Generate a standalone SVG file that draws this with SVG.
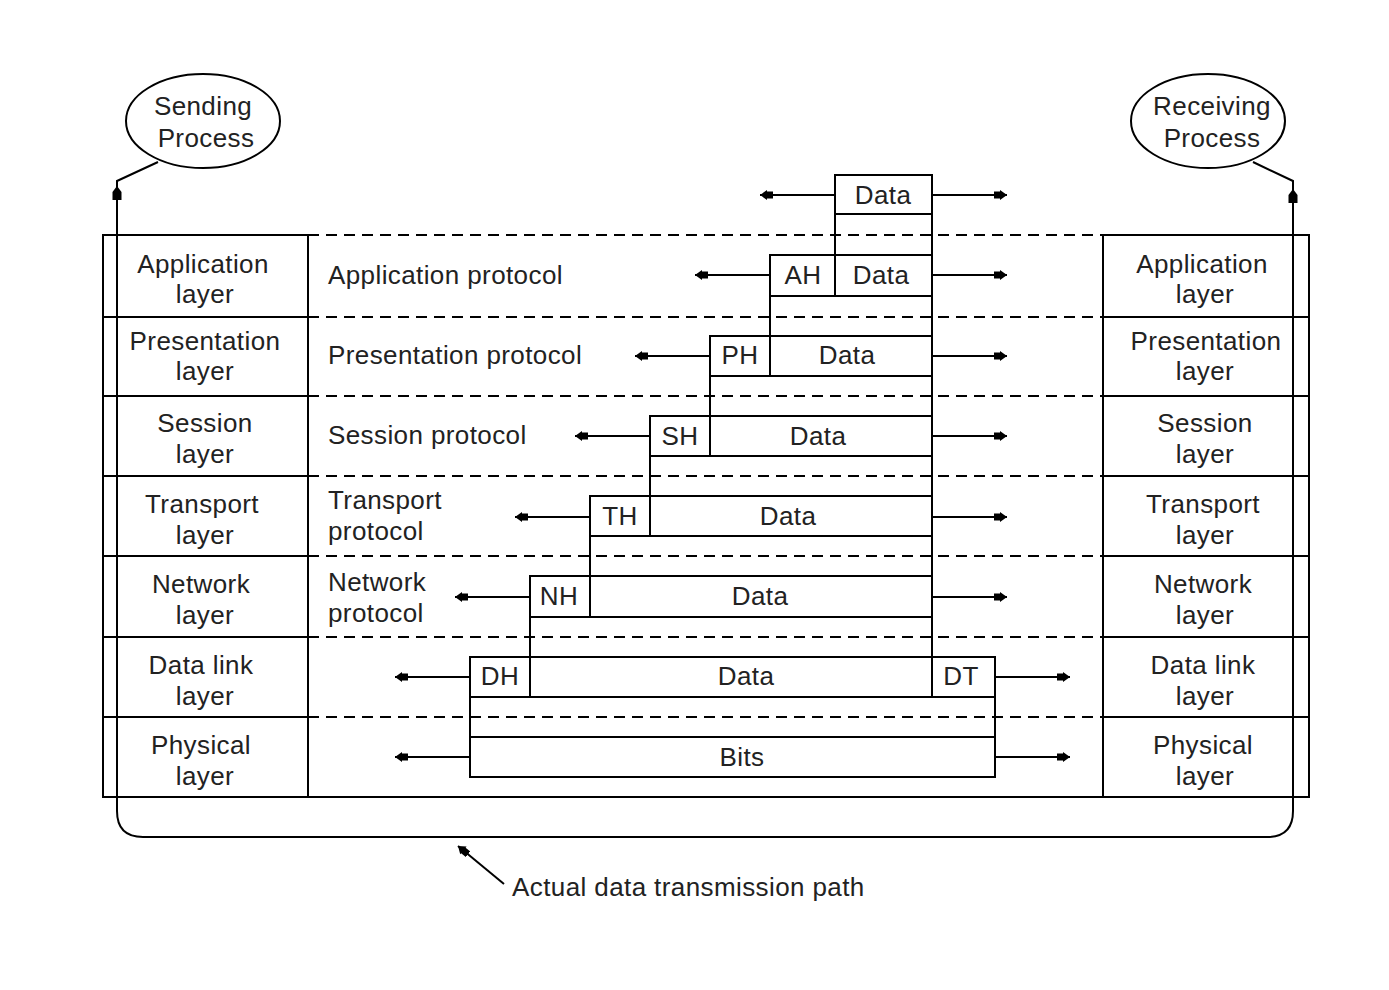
<svg xmlns="http://www.w3.org/2000/svg" width="1389" height="990" viewBox="0 0 1389 990">
<style>
  .ln{fill:none;stroke:#000;stroke-width:2}
  .box{fill:#fff;stroke:#000;stroke-width:2}
  .dash{fill:none;stroke:#000;stroke-width:2;stroke-dasharray:11 7}
  .arr{fill:none;stroke:#000;stroke-width:2;marker-end:url(#ah)}
  text{font-family:"Liberation Sans",Arial,Helvetica,sans-serif;font-size:26px;letter-spacing:0.4px;fill:#222}
  .c{text-anchor:middle}
</style>
<defs>
  <marker id="ah" markerUnits="userSpaceOnUse" viewBox="0 -6 14 12" refX="13" refY="0" markerWidth="14" markerHeight="12" orient="auto">
    <path d="M0,-3.5 H6 V-5 L13,0 L6,5 V3.5 H0 Z" fill="#000"/>
  </marker>
</defs>
<rect width="1389" height="990" fill="#fff"/>

<!-- row separators (dashed) -->
<g id="separators">
  <line class="dash" x1="308" y1="235" x2="1103" y2="235"/>
  <line class="dash" x1="308" y1="317" x2="1103" y2="317"/>
  <line class="dash" x1="308" y1="396" x2="1103" y2="396"/>
  <line class="dash" x1="308" y1="476" x2="1103" y2="476"/>
  <line class="dash" x1="308" y1="556" x2="1103" y2="556"/>
  <line class="dash" x1="308" y1="637" x2="1103" y2="637"/>
  <line class="dash" x1="308" y1="717" x2="1103" y2="717"/>
  <line class="ln" x1="103" y1="797" x2="1309" y2="797"/>
</g>

<!-- left layer column -->
<g id="sender-stack">
  <rect class="ln" x="103" y="235" width="205" height="562"/>
  <line class="ln" x1="103" y1="317" x2="308" y2="317"/>
  <line class="ln" x1="103" y1="396" x2="308" y2="396"/>
  <line class="ln" x1="103" y1="476" x2="308" y2="476"/>
  <line class="ln" x1="103" y1="556" x2="308" y2="556"/>
  <line class="ln" x1="103" y1="637" x2="308" y2="637"/>
  <line class="ln" x1="103" y1="717" x2="308" y2="717"/>
  <text class="c" x="203" y="273">Application</text><text class="c" x="205" y="303">layer</text>
  <text class="c" x="205" y="350">Presentation</text><text class="c" x="205" y="380">layer</text>
  <text class="c" x="205" y="432">Session</text><text class="c" x="205" y="463">layer</text>
  <text class="c" x="202" y="513">Transport</text><text class="c" x="205" y="544">layer</text>
  <text class="c" x="201" y="593">Network</text><text class="c" x="205" y="624">layer</text>
  <text class="c" x="201" y="674">Data link</text><text class="c" x="205" y="705">layer</text>
  <text class="c" x="201" y="754">Physical</text><text class="c" x="205" y="785">layer</text>
</g>

<!-- right layer column -->
<g id="receiver-stack">
  <rect class="ln" x="1103" y="235" width="206" height="562"/>
  <line class="ln" x1="1103" y1="317" x2="1309" y2="317"/>
  <line class="ln" x1="1103" y1="396" x2="1309" y2="396"/>
  <line class="ln" x1="1103" y1="476" x2="1309" y2="476"/>
  <line class="ln" x1="1103" y1="556" x2="1309" y2="556"/>
  <line class="ln" x1="1103" y1="637" x2="1309" y2="637"/>
  <line class="ln" x1="1103" y1="717" x2="1309" y2="717"/>
  <text class="c" x="1202" y="273">Application</text><text class="c" x="1205" y="303">layer</text>
  <text class="c" x="1206" y="350">Presentation</text><text class="c" x="1205" y="380">layer</text>
  <text class="c" x="1205" y="432">Session</text><text class="c" x="1205" y="463">layer</text>
  <text class="c" x="1203" y="513">Transport</text><text class="c" x="1205" y="544">layer</text>
  <text class="c" x="1203" y="593">Network</text><text class="c" x="1205" y="624">layer</text>
  <text class="c" x="1203" y="674">Data link</text><text class="c" x="1205" y="705">layer</text>
  <text class="c" x="1203" y="754">Physical</text><text class="c" x="1205" y="785">layer</text>
</g>

<!-- protocol labels -->
<g id="protocols">
  <text x="328" y="284">Application protocol</text>
  <text x="328" y="364">Presentation protocol</text>
  <text x="328" y="444">Session protocol</text>
  <text x="328" y="509">Transport</text><text x="328" y="540">protocol</text>
  <text x="328" y="591">Network</text><text x="328" y="622">protocol</text>
</g>

<!-- processes -->
<g id="sending-process">
  <ellipse class="ln" cx="203" cy="121" rx="77" ry="47"/>
  <text class="c" x="203" y="115">Sending</text>
  <text class="c" x="206" y="147">Process</text>
</g>
<g id="receiving-process">
  <ellipse class="ln" cx="1208" cy="121" rx="77" ry="47"/>
  <text class="c" x="1212" y="115">Receiving</text>
  <text class="c" x="1212" y="147">Process</text>
</g>

<!-- connectors -->
<g id="connectors">
  <!-- vertical stair edges joining packet boxes -->
  <line class="ln" x1="932" y1="175" x2="932" y2="697"/>
  <line class="ln" x1="835" y1="214" x2="835" y2="255"/>
  <line class="ln" x1="770" y1="296" x2="770" y2="336"/>
  <line class="ln" x1="710" y1="376" x2="710" y2="416"/>
  <line class="ln" x1="650" y1="456" x2="650" y2="496"/>
  <line class="ln" x1="590" y1="536" x2="590" y2="576"/>
  <line class="ln" x1="530" y1="617" x2="530" y2="657"/>
  <line class="ln" x1="470" y1="697" x2="470" y2="737"/>
  <line class="ln" x1="995" y1="697" x2="995" y2="737"/>

  <!-- actual data transmission path -->
  <path class="ln" d="M158,162 L117,181 L117,811 Q117,837 143,837 L1267,837 Q1293,837 1293,811 L1293,181 L1253,162"/>
  <path d="M117,186 L121.5,192 V200 H112.5 V192 Z" fill="#000"/>
  <path d="M1293,189 L1297.5,195 V203 H1288.5 V195 Z" fill="#000"/>

  <!-- peer protocol arrows -->
  <line class="arr" x1="835" y1="195" x2="760" y2="195"/>
  <line class="arr" x1="932" y1="195" x2="1007" y2="195"/>
  <line class="arr" x1="770" y1="275" x2="695" y2="275"/>
  <line class="arr" x1="932" y1="275" x2="1007" y2="275"/>
  <line class="arr" x1="710" y1="356" x2="635" y2="356"/>
  <line class="arr" x1="932" y1="356" x2="1007" y2="356"/>
  <line class="arr" x1="650" y1="436" x2="575" y2="436"/>
  <line class="arr" x1="932" y1="436" x2="1007" y2="436"/>
  <line class="arr" x1="590" y1="517" x2="515" y2="517"/>
  <line class="arr" x1="932" y1="517" x2="1007" y2="517"/>
  <line class="arr" x1="530" y1="597" x2="455" y2="597"/>
  <line class="arr" x1="932" y1="597" x2="1007" y2="597"/>
  <line class="arr" x1="470" y1="677" x2="395" y2="677"/>
  <line class="arr" x1="995" y1="677" x2="1070" y2="677"/>
  <line class="arr" x1="470" y1="757" x2="395" y2="757"/>
  <line class="arr" x1="995" y1="757" x2="1070" y2="757"/>

  <!-- label pointer -->
  <line class="arr" x1="504" y1="884" x2="458" y2="846"/>
</g>

<!-- packet boxes -->
<g id="pkt-data">
  <rect class="box" x="835" y="175" width="97" height="39"/>
  <text class="c" x="883" y="204">Data</text>
</g>
<g id="pkt-app">
  <rect class="box" x="770" y="255" width="162" height="41"/>
  <line class="ln" x1="835" y1="255" x2="835" y2="296"/>
  <text class="c" x="803" y="284">AH</text>
  <text class="c" x="881" y="284">Data</text>
</g>
<g id="pkt-pres">
  <rect class="box" x="710" y="336" width="222" height="40"/>
  <line class="ln" x1="770" y1="336" x2="770" y2="376"/>
  <text class="c" x="740" y="364">PH</text>
  <text class="c" x="847" y="364">Data</text>
</g>
<g id="pkt-sess">
  <rect class="box" x="650" y="416" width="282" height="40"/>
  <line class="ln" x1="710" y1="416" x2="710" y2="456"/>
  <text class="c" x="680" y="445">SH</text>
  <text class="c" x="818" y="445">Data</text>
</g>
<g id="pkt-trans">
  <rect class="box" x="590" y="496" width="342" height="40"/>
  <line class="ln" x1="650" y1="496" x2="650" y2="536"/>
  <text class="c" x="620" y="525">TH</text>
  <text class="c" x="788" y="525">Data</text>
</g>
<g id="pkt-net">
  <rect class="box" x="530" y="576" width="402" height="41"/>
  <line class="ln" x1="590" y1="576" x2="590" y2="617"/>
  <text class="c" x="559" y="605">NH</text>
  <text class="c" x="760" y="605">Data</text>
</g>
<g id="pkt-link">
  <rect class="box" x="470" y="657" width="525" height="40"/>
  <line class="ln" x1="530" y1="657" x2="530" y2="697"/>
  <line class="ln" x1="932" y1="657" x2="932" y2="697"/>
  <text class="c" x="500" y="685">DH</text>
  <text class="c" x="746" y="685">Data</text>
  <text class="c" x="961" y="685">DT</text>
</g>
<g id="pkt-bits">
  <rect class="box" x="470" y="737" width="525" height="40"/>
  <text class="c" x="742" y="766">Bits</text>
</g>

<g id="path-label">
  <text x="512" y="896">Actual data transmission path</text>
</g>
</svg>
